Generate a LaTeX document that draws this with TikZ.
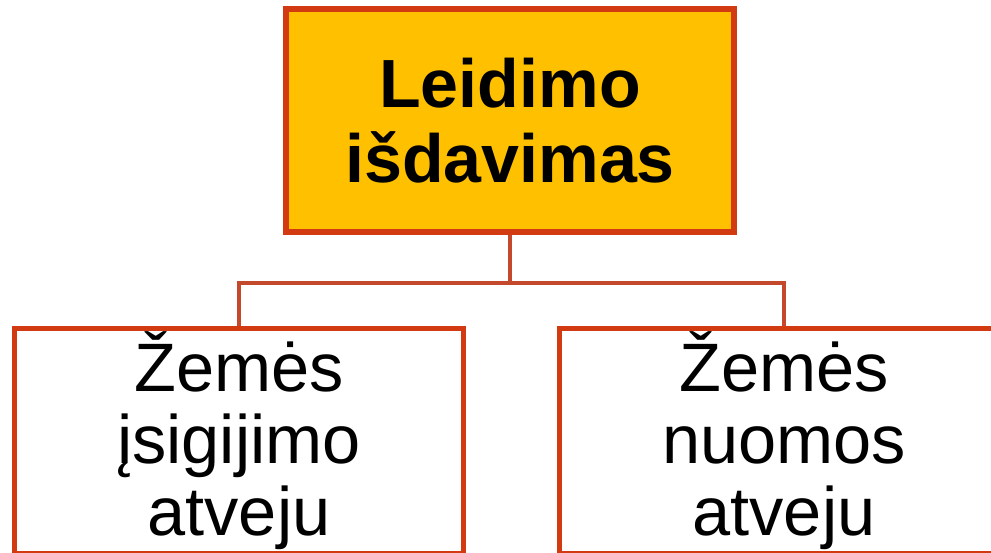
\documentclass[tikz,border=0pt]{standalone}
\usepackage{fontspec}
\setmainfont{Liberation Sans}
\definecolor{boxred}{RGB}{210,58,18}
\definecolor{linkred}{RGB}{196,72,44}
\definecolor{gold}{RGB}{255,192,0}
\begin{document}
\begin{tikzpicture}[x=0.02cm,y=-0.02cm,
  box/.style={draw=boxred,line width=3pt,minimum width=8.98cm,minimum height=4.5cm,
    inner sep=0pt,align=center,font=\fontsize{39}{41}\selectfont},
  link/.style={draw=linkred,line width=2.2pt}]
\useasboundingbox (0,0) rectangle (991,552);
\clip (0,0) rectangle (991,552);
\node[box,fill=gold,minimum width=8.96cm,minimum height=4.46cm,
  font=\fontsize{38.8}{42.5}\selectfont\bfseries] (top) at (510,120.5) {Leidimo\\išdavimas};
\node[box] (left) at (239,441) {Žemės\\įsigijimo\\atveju};
\node[box] (right) at (784,441) {Žemės\\nuomos\\atveju};
\draw[link] (top.south) -- ++(0,48) -| (left.north);
\draw[link] (top.south) -- ++(0,48) -| (right.north);
\end{tikzpicture}
\end{document}
